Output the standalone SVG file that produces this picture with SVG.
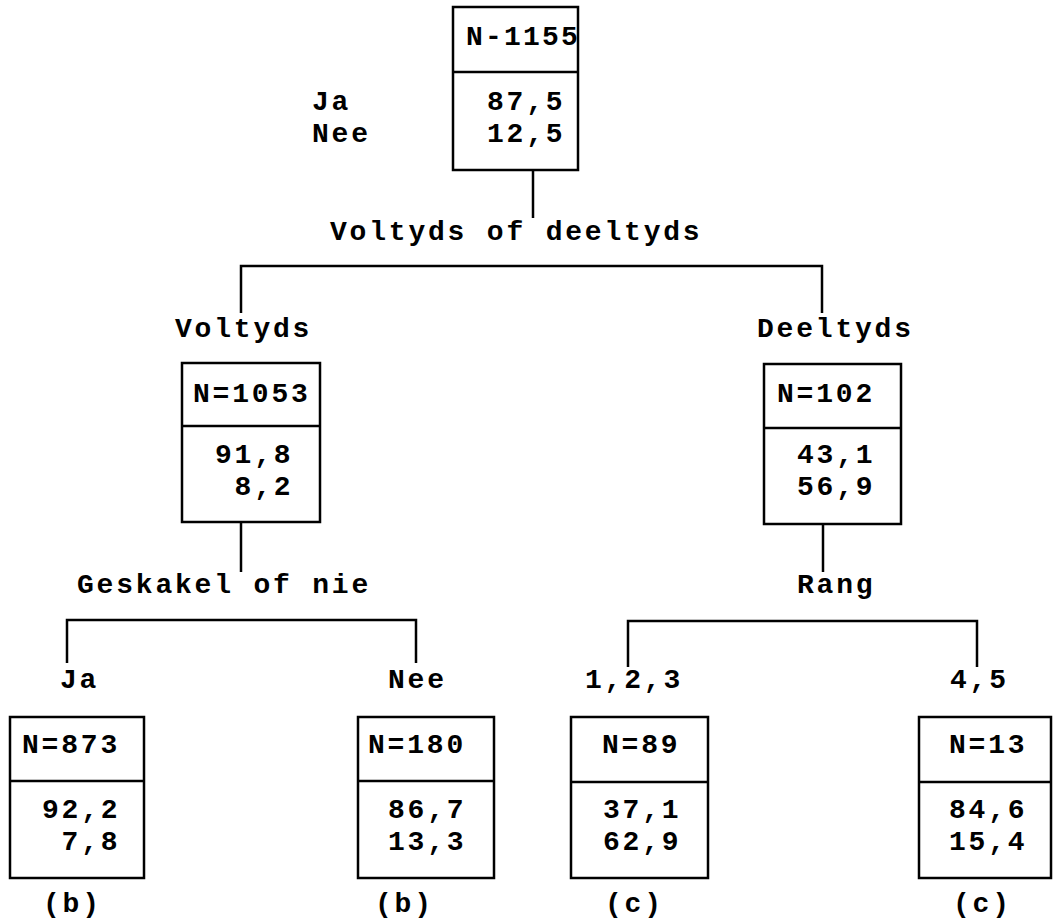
<svg xmlns="http://www.w3.org/2000/svg" width="1053" height="923" viewBox="0 0 1053 923">
<style>
text{font-family:"Liberation Mono","DejaVu Sans Mono",monospace;font-weight:bold;font-size:28px;letter-spacing:2.8px;fill:#000}
.box{fill:none;stroke:#000;stroke-width:2.5}
.ln{fill:none;stroke:#000;stroke-width:2.5}
</style>
<rect width="1053" height="923" fill="#fff"/>
<g id="connectors">
<path class="ln" d="M533 170V218"/>
<path class="ln" d="M241 313V266H822V313"/>
<path class="ln" d="M241 522V572"/>
<path class="ln" d="M823 524V572"/>
<path class="ln" d="M67 663V620H416V663"/>
<path class="ln" d="M628 667V621H977V667"/>
</g>
<g id="labels">
<text x="330" y="240">Voltyds of deeltyds</text>
<text x="175" y="337">Voltyds</text>
<text x="757" y="337">Deeltyds</text>
<text x="77" y="593">Geskakel of nie</text>
<text x="797" y="593">Rang</text>
<text x="60" y="688">Ja</text>
<text x="388" y="688">Nee</text>
<text x="585" y="688">1,2,3</text>
<text x="950" y="688">4,5</text>
<text x="312" y="110">Ja</text>
<text x="312" y="142">Nee</text>
</g>
<g id="node-root">
<rect class="box" x="453" y="7" width="125" height="163"/>
<path class="ln" d="M453 72H578"/>
<text x="466" y="45" style="letter-spacing:2.2px">N-1155</text>
<text x="487" y="110">87,5</text>
<text x="487" y="142">12,5</text>
</g>
<g id="node-voltyds">
<rect class="box" x="182" y="363" width="138" height="159"/>
<path class="ln" d="M182 426H320"/>
<text x="193" y="402">N=1053</text>
<text x="215" y="463">91,8</text>
<text x="234.6" y="495">8,2</text>
</g>
<g id="node-deeltyds">
<rect class="box" x="764" y="364" width="137" height="160"/>
<path class="ln" d="M764 428H901"/>
<text x="777" y="402">N=102</text>
<text x="797" y="463">43,1</text>
<text x="797" y="495">56,9</text>
</g>
<g id="node-ja">
<rect class="box" x="10" y="717" width="134" height="161"/>
<path class="ln" d="M10 781H144"/>
<text x="22" y="753">N=873</text>
<text x="42" y="818">92,2</text>
<text x="61.6" y="850">7,8</text>
<text x="43" y="912">(b)</text>
</g>
<g id="node-nee">
<rect class="box" x="358" y="717" width="136" height="161"/>
<path class="ln" d="M358 781H494"/>
<text x="368" y="753">N=180</text>
<text x="388" y="818">86,7</text>
<text x="388" y="850">13,3</text>
<text x="375" y="912">(b)</text>
</g>
<g id="node-123">
<rect class="box" x="571" y="717" width="137" height="161"/>
<path class="ln" d="M571 782H708"/>
<text x="602" y="753">N=89</text>
<text x="603" y="818">37,1</text>
<text x="603" y="850">62,9</text>
<text x="605" y="912">(c)</text>
</g>
<g id="node-45">
<rect class="box" x="919" y="717" width="132" height="161"/>
<path class="ln" d="M919 782H1051"/>
<text x="949" y="753">N=13</text>
<text x="949" y="818">84,6</text>
<text x="949" y="850">15,4</text>
<text x="953" y="912">(c)</text>
</g>
</svg>
